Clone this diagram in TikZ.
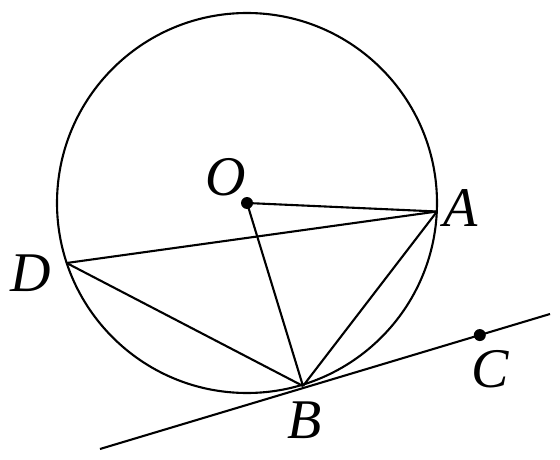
\documentclass[tikz,border=0pt]{standalone}
\usepackage{fontspec}
\setmainfont{Liberation Serif}
\usetikzlibrary{calc}
\begin{document}
\begin{tikzpicture}[x=1pt,y=-1pt,line width=2.1pt,
  lbl/.style={font=\fontsize{56}{60}\selectfont\itshape,inner sep=0pt},
  dotpt/.style={circle,fill=black,inner sep=0pt,minimum size=12pt}]
\useasboundingbox (0,0) rectangle (560,460);
\coordinate (O) at (247,203);
\coordinate (A) at (437,211.5);
\coordinate (D) at (66.6,263);
\coordinate (B) at (303,386);
\coordinate (L1) at (100,449);
\coordinate (L2) at (550,314);
\coordinate (C) at ($(L1)!0.844!(L2)$);
\draw (O) circle (190);
\draw (O) -- (A);
\draw (O) -- (B);
\draw (D) -- (A);
\draw (D) -- (B);
\draw (A) -- (B);
\draw (L1) -- (L2);
\node[dotpt] (Odot) at (O) {};
\node[dotpt] (Cdot) at (C) {};
\node[lbl] (Olbl) at (226,177) {O};
\node[lbl] (Albl) at (461,208) {A};
\node[lbl] (Dlbl) at (31,273) {D};
\node[lbl] (Blbl) at (305,420) {B};
\node[lbl] (Clbl) at (490,369) {C};
\end{tikzpicture}
\end{document}
